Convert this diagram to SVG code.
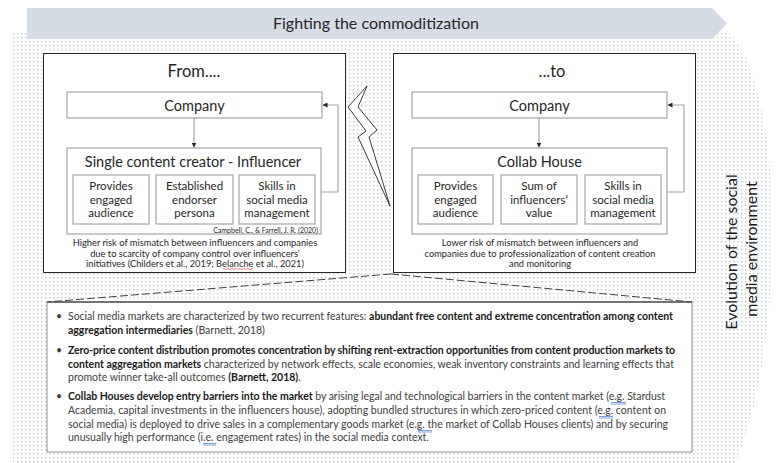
<svg xmlns="http://www.w3.org/2000/svg" width="782" height="463" viewBox="0 0 782 463">
  <defs>
    <pattern id="dots" x="0" y="0" width="4" height="4" patternUnits="userSpaceOnUse">
      <rect x="1" y="1" width="1.4" height="1.4" fill="#c3ccd8"/>
    </pattern>
    <marker id="head" viewBox="0 0 6 6" refX="6" refY="3" markerWidth="5" markerHeight="5" markerUnits="userSpaceOnUse" orient="auto">
      <path d="M0,0 L6,3 L0,6 z" fill="#262626"/>
    </marker>
    <style>
      text { font-family: "Lato", "Liberation Sans", sans-serif; fill: #262626; }
      .frame { fill: #ffffff; stroke: #262626; stroke-width: 1; }
      .box { fill: #ffffff; stroke: #a6a6a6; stroke-width: 1.2; }
      .sub { fill: #ffffff; stroke: #a6a6a6; stroke-width: 1.2; }
      .head { font-size: 16.5px; text-anchor: middle; }
      .title { font-size: 14.5px; text-anchor: middle; }
      .item { font-size: 11.5px; text-anchor: middle; }
      .note { font-size: 9.3px; text-anchor: middle; }
      .cite { font-size: 7px; text-anchor: end; }
      .para { font-size: 10.5px; fill: #404040; }
      .b { font-weight: 700; fill: #1a1a1a; }
      .link { fill: none; stroke: #a6a6a6; stroke-width: 1.2; }
      .dash { fill: none; stroke: #404040; stroke-width: 1; stroke-dasharray: 8 3; }
      .spell { fill: none; stroke: #4a7ac9; stroke-width: 0.7; }
    </style>
  </defs>

  <!-- dotted backdrop for the social media environment -->
  <path d="M10,32 L728,32 C790,90 785,370 728,480 L10,480 Z" fill="url(#dots)"/>

  <!-- top banner -->
  <g id="banner">
    <path d="M27,8 L712,8 L727,23.5 L712,39 L27,39 Z" fill="#d6dce5"/>
    <text x="376" y="29" style="font-size:16px;text-anchor:middle;">Fighting the commoditization</text>
  </g>

  <!-- left panel: from -->
  <g id="from-panel">
    <rect class="frame" x="43.5" y="53.5" width="302" height="219"/>
    <text class="head" x="194" y="77">From....</text>
  </g>
  <g id="company-left">
    <rect class="box" x="67" y="92" width="255" height="26"/>
    <text class="title" x="194.5" y="110.5">Company</text>
  </g>
  <g id="influencer">
    <rect class="box" x="67" y="148" width="254" height="86"/>
    <text class="title" x="193" y="166.5">Single content creator - Influencer</text>
    <text class="cite" x="318" y="232.5">Campbell, C., &amp; Farrell, J. R. (2020)</text>
  </g>
  <g id="left-audience">
    <rect class="sub" x="73" y="175" width="76" height="49"/>
    <text class="item" x="111" y="190">Provides</text>
    <text class="item" x="111" y="203.5">engaged</text>
    <text class="item" x="111" y="217">audience</text>
  </g>
  <g id="left-persona">
    <rect class="sub" x="156" y="175" width="77" height="49"/>
    <text class="item" x="194.5" y="190">Established</text>
    <text class="item" x="194.5" y="203.5">endorser</text>
    <text class="item" x="194.5" y="217">persona</text>
  </g>
  <g id="left-skills">
    <rect class="sub" x="239" y="175" width="76" height="49"/>
    <text class="item" x="277" y="190">Skills in</text>
    <text class="item" x="277" y="203.5">social media</text>
    <text class="item" x="277" y="217">management</text>
  </g>
  <g id="left-note">
    <text class="note" x="195" y="246">Higher risk of mismatch between influencers and companies</text>
    <text class="note" x="195" y="256.5">due to scarcity of company control over influencers’</text>
    <text class="note" x="195" y="267">initiatives (Childers et al., 2019; Belanche et al., 2021)</text>
    <path d="M223,269 q1,-1 2,0 t2,0 t2,0 t2,0 t2,0 t2,0 t2,0 t2,0 t2,0 t2,0 t2,0 t2,0 t2,0 t2,0 t2,0" fill="none" stroke="#e03030" stroke-width="0.6"/>
  </g>

  <!-- lightning bolt between the panels -->
  <g id="bolt">
    <path d="M367,86 L348,107 L366,131 L358,137 L390,206 L369,137 L377,130 L358,107 Z" fill="#ffffff" stroke="#262626" stroke-width="0.9" stroke-linejoin="miter"/>
  </g>

  <!-- right panel: to -->
  <g id="to-panel">
    <rect class="frame" x="393.5" y="53.5" width="302" height="219"/>
    <text class="head" x="552" y="77">...to</text>
  </g>
  <g id="company-right">
    <rect class="box" x="412" y="92" width="255" height="26"/>
    <text class="title" x="539.5" y="110.5">Company</text>
  </g>
  <g id="collab-house">
    <rect class="box" x="412" y="148" width="255" height="86"/>
    <text class="title" x="539.5" y="166.5">Collab House</text>
  </g>
  <g id="right-audience">
    <rect class="sub" x="418" y="175" width="75" height="49"/>
    <text class="item" x="455.5" y="190">Provides</text>
    <text class="item" x="455.5" y="203.5">engaged</text>
    <text class="item" x="455.5" y="217">audience</text>
  </g>
  <g id="right-value">
    <rect class="sub" x="501" y="175" width="76" height="49"/>
    <text class="item" x="539" y="190">Sum of</text>
    <text class="item" x="539" y="203.5">influencers’</text>
    <text class="item" x="539" y="217">value</text>
  </g>
  <g id="right-skills">
    <rect class="sub" x="585" y="175" width="76" height="49"/>
    <text class="item" x="623" y="190">Skills in</text>
    <text class="item" x="623" y="203.5">social media</text>
    <text class="item" x="623" y="217">management</text>
  </g>
  <g id="right-note">
    <text class="note" x="540" y="246">Lower risk of mismatch between influencers and</text>
    <text class="note" x="540" y="256.5">companies due to professionalization of content creation</text>
    <text class="note" x="540" y="267">and monitoring</text>
  </g>

  <!-- connectors -->
  <g id="connectors">
    <line class="link" x1="194" y1="118" x2="194" y2="147.5" marker-end="url(#head)"/>
    <polyline class="link" points="321,192 338,192 338,105 322.5,105" marker-end="url(#head)"/>
    <line class="link" x1="539" y1="118" x2="539" y2="147.5" marker-end="url(#head)"/>
    <polyline class="link" points="667,192 684,192 684,105 667.5,105" marker-end="url(#head)"/>
    <line class="dash" x1="391" y1="274" x2="47" y2="302"/>
    <line class="dash" x1="391" y1="274" x2="692" y2="302"/>
  </g>

  <!-- side label -->
  <g id="side-label">
    <text transform="translate(737,252) rotate(-90)" style="font-size:16px;text-anchor:middle;fill:#1a1a1a;">Evolution of the social</text>
    <text transform="translate(757,249) rotate(-90)" style="font-size:16px;text-anchor:middle;fill:#1a1a1a;">media environment</text>
  </g>

  <!-- market notes -->
  <g id="market-notes">
    <rect x="47" y="302" width="645" height="150" fill="#ffffff" stroke="#8c8c8c" stroke-width="1"/>
    <line x1="47" y1="302" x2="692" y2="302" stroke="#262626" stroke-width="1.2"/>
    <text class="para" x="56" y="320">•</text>
    <text class="para" x="68" y="320" textLength="605" lengthAdjust="spacing">Social media markets are characterized by two recurrent features: <tspan class="b">abundant free content and extreme concentration among content</tspan></text>
    <text class="para" x="68" y="334"><tspan class="b">aggregation intermediaries</tspan> (Barnett, 2018)</text>
    <text class="para" x="56" y="354">•</text>
    <text class="para b" x="68" y="354" textLength="607" lengthAdjust="spacing">Zero-price content distribution promotes concentration by shifting rent-extraction opportunities from content production markets to</text>
    <text class="para" x="68" y="367.5" textLength="606" lengthAdjust="spacing"><tspan class="b">content aggregation markets</tspan> characterized by network effects, scale economies, weak inventory constraints and learning effects that</text>
    <text class="para" x="68" y="381">promote winner take-all outcomes <tspan class="b">(Barnett, 2018)</tspan>.</text>
    <text class="para" x="56" y="400">•</text>
    <text class="para" x="68" y="400" textLength="597" lengthAdjust="spacing"><tspan class="b">Collab Houses develop entry barriers into the market</tspan> by arising legal and technological barriers in the content market (e.g. Stardust</text>
    <text class="para" x="68" y="414" textLength="598" lengthAdjust="spacing">Academia, capital investments in the influencers house), adopting bundled structures in which zero-priced content (e.g. content on</text>
    <text class="para" x="68" y="428" textLength="600" lengthAdjust="spacing">social media) is deployed to drive sales in a complementary goods market (e.g. the market of Collab Houses clients) and by securing</text>
    <text class="para" x="68" y="441">unusually high performance (i.e. engagement rates) in the social media context.</text>
    <path class="spell" d="M611,402.5 h15 M611,404 h15 M599,416.5 h14 M599,418 h14 M418,430.5 h14 M418,432 h14 M203,443.5 h13 M203,445 h13"/>
  </g>
</svg>
